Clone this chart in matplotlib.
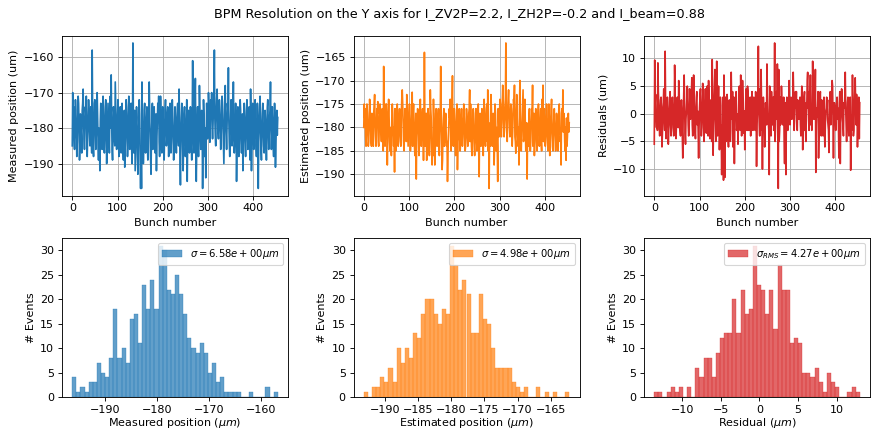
"""
BPM resolution on the Y axis: measured / estimated positions and residuals.
"""
import matplotlib
matplotlib.use("Agg")
import matplotlib.pyplot as plt
from matplotlib.ticker import MultipleLocator
import numpy as np

# Measured position per bunch (um)
measured = [
    -185, -170, -177, -174, -183, -186, -179, -172, -175, -181, -188, -184, -178, -171, -173, -180, -189, -185, -176, -179,
    -182, -187, -175, -173, -169, -178, -183, -186, -180, -174, -176, -171, -184, -188, -182, -177, -172, -175, -181, -185,
    -179, -174, -183, -187, -158, -176, -185, -188, -181, -173, -172, -178, -186, -182, -175, -170, -177, -184, -189, -180,
    -183, -192, -178, -173, -175, -182, -186, -179, -171, -174, -185, -187, -181, -176, -172, -180, -190, -184, -177, -173,
    -178, -184, -187, -175, -171, -180, -165, -178, -186, -189, -182, -174, -176, -183, -185, -167, -173, -180, -186, -182,
    -177, -172, -181, -188, -185, -179, -174, -183, -187, -176, -173, -180, -186, -189, -182, -175, -191, -184, -178, -172,
    -176, -183, -188, -185, -174, -171, -179, -186, -182, -177, -173, -184, -190, -181, -156, -178, -187, -184, -175, -192,
    -186, -180, -174, -177, -188, -193, -184, -179, -172, -176, -189, -197, -185, -197, -167, -178, -183, -190, -186, -175,
    -173, -180, -187, -184, -178, -174, -185, -189, -181, -176, -167, -175, -183, -188, -193, -182, -177, -173, -186, -184,
    -179, -174, -181, -187, -185, -176, -192, -183, -178, -173, -177, -171, -184, -188, -182, -171, -176, -185, -187, -180,
    -174, -178, -186, -189, -181, -175, -172, -179, -185, -183, -176, -174, -182, -188, -184, -177, -173, -180, -187, -183,
    -178, -172, -176, -184, -189, -186, -180, -174, -177, -183, -187, -181, -175, -173, -182, -185, -169, -178, -186, -196,
    -183, -177, -173, -180, -186, -192, -184, -176, -174, -181, -188, -185, -179, -172, -195, -184, -177, -175, -182, -187,
    -181, -174, -176, -185, -189, -179, -161, -175, -183, -187, -180, -173, -166, -184, -195, -186, -178, -174, -182, -188,
    -177, -168, -174, -183, -186, -181, -175, -179, -197, -185, -172, -176, -182, -188, -180, -194, -184, -173, -178, -183,
    -175, -170, -173, -181, -184, -178, -172, -176, -170, -180, -183, -179, -174, -171, -158, -177, -182, -185, -176, -172,
    -169, -175, -181, -183, -178, -172, -174, -180, -186, -182, -176, -171, -173, -179, -184, -190, -181, -174, -168, -177,
    -182, -186, -179, -173, -175, -163, -178, -184, -188, -181, -176, -172, -177, -185, -183, -174, -167, -179, -187, -184,
    -178, -173, -180, -195, -186, -177, -174, -182, -188, -184, -179, -172, -175, -183, -187, -180, -176, -192, -185, -178,
    -173, -177, -184, -188, -181, -175, -172, -180, -186, -183, -178, -174, -185, -189, -169, -178, -192, -184, -176, -173,
    -179, -186, -183, -176, -172, -178, -185, -188, -182, -173, -177, -197, -184, -180, -174, -171, -179, -186, -189, -181,
    -176, -173, -180, -185, -187, -182, -175, -178, -184, -189, -181, -174, -172, -179, -186, -183, -177, -175, -167, -180,
    -186, -182, -174, -178, -185, -188, -180, -173, -177, -191, -184, -179, -175, -182, -177,
]

# Estimated position per bunch (um), top-middle panel
estimated = [
    -180, -175, -178, -176, -182, -184, -179, -175, -177, -181, -184, -183, -178, -174, -176, -180, -183, -184, -177, -179,
    -181, -184, -177, -175, -173, -179, -182, -184, -180, -176, -177, -174.5, -183, -184, -181, -178, -175, -177, -181, -183,
    -179, -176, -182, -185, -167, -178, -183, -184, -181, -175, -175, -179, -188, -182, -177, -174, -178, -183, -185, -180,
    -182, -186, -178, -175, -177, -181, -184, -180, -189.5, -176, -183, -185, -181, -177, -175, -180, -184, -183, -178, -176,
    -179, -182, -184, -177, -174, -172, -175, -179, -183, -185, -181, -176, -177, -182, -183, -173, -176, -180, -184, -181,
    -178, -175, -181, -185, -183, -179, -176, -172.5, -184, -177, -175, -180, -184, -186, -181, -177, -191, -182, -179, -176,
    -177, -182, -186, -183, -176, -174, -179, -184, -181, -178, -176, -182, -187, -180, -164, -179, -184, -182, -177, -187,
    -183, -180, -176, -178, -184, -186, -182, -172, -176, -178, -185, -188, -183, -186, -174, -179, -182, -188, -184, -177,
    -176, -180, -184, -183, -179, -176, -183, -186, -181, -178, -167, -177, -182, -189, -187, -181, -178, -176, -184, -183,
    -180, -177, -181, -184, -183, -191.5, -186, -182, -179, -176, -178, -174, -182, -185, -181, -175, -169, -183, -184, -180,
    -176, -179, -184, -186, -181, -177, -175, -189, -183, -182, -178, -176, -181, -185, -183, -178, -176, -180, -184, -182,
    -179, -175, -177, -182, -185, -184, -180, -176, -178, -182, -184, -181, -177, -176, -172, -183, -175, -179, -184, -186,
    -182, -178, -176, -180, -184, -186, -183, -177, -176, -181, -185, -184, -180, -175, -185, -190.5, -179, -177, -181, -184,
    -181, -176, -177, -183, -186, -180, -174, -177, -182, -184, -180, -176, -175, -183, -172, -185, -179, -193, -181, -184,
    -178, -173, -176, -182, -184, -181, -177, -180, -188, -184, -175, -177, -181, -185, -180, -184, -191.5, -176, -179, -182,
    -177, -174, -175, -180, -182, -179, -175, -171, -173, -179, -182, -180, -176, -174, -162, -178, -181, -183, -177, -174,
    -172, -176, -180, -182, -179, -175, -176, -180, -184, -181, -177, -174, -175, -171, -182, -183, -185.5, -177, -173, -178,
    -181, -184, -180, -188, -177, -170, -179, -183, -185, -181, -178, -175, -172, -183, -182, -177, -174, -180, -185, -183,
    -179, -191, -180, -184, -184, -178, -176, -181, -185, -183, -180, -176, -177, -171, -184, -180, -177, -186, -183, -179,
    -176, -178, -183, -185, -181, -177, -175, -180, -184, -182, -179, -176, -183, -185, -174, -179, -171, -183, -178, -176,
    -180, -184, -182, -178, -175, -179, -183, -185, -181, -175, -178, -186, -183, -180, -176, -174, -180, -184, -185, -181,
    -178, -176, -180, -183, -185, -181, -177, -179, -183, -185, -181, -176, -175, -180, -183, -182, -188, -177, -176, -180,
    -172, -181, -177, -179, -183, -185, -180, -187, -178, -184, -182, -179, -177, -181, -179,
]

# Residuals per bunch (um), top-right panel
residuals = [
    -5.5, 9.7, 2, 3.5, -1, -2.5, 0.5, -3, 9.2, 4, 1.5, -2, -4, -1, 2.5, 3, -0.5, -6, -3.5, 1,
    2, 4.5, -1, -3, 11.3, 2, -4.5, -2, 0.5, 3, 1, -5.5, -3, -1.5, 2, 4, -1, -4, -2.5, 1.5,
    3, 1, -2.5, -4, -2, 8.8, 3.5, -1, -4.5, -2, 1.5, 3, 0, -2.5, 6, 4, -1, -3, -4, 1,
    2.5, -2, -4, -8, 1, 3, 7, 2, -3.5, -5.5, -1, 0.5, 3, 5, 1.5, -2, -4, -3, 4.5, 2,
    -1, 2, 3.5, 6.5, -2, -4, -1.5, 7, 3, -1, -3, -4.5, 1, 3, 4, -2, 0.5, -3, -8, -2.5,
    1, 3, 4.5, -1, -4, -2.5, 1.5, 5.5, 3, -2, -5, -1, 2, 4.5, 0, -3.5, -2, 5, 1, -4,
    6, 3, -2, -4.5, -1, 2.5, 1, -5, 9.8, 4, -7.5, -2, 1, 4, 8, -1, -5, -2, 9.5, -3,
    -4, 2, 5, 1, -6.5, -3, 3, 1.5, -4, -11, -2, -8, 3, -12, 7, 1, -11.5, -2, 3, -5,
    -2, 3.5, 1, -4, -6, 0.5, 2.5, 1.5, -5, -3, 7.5, 2, -1, 4, -6, -2, 3, -9, -1.5, 2,
    1.5, 4, -3, -2, 0, -5.5, -1, 3, 5, 2, -3, 7, 1, -4, -2, 6, 3, -1, -3.5, 0.5,
    -6.5, -2, 2, 4.5, 1, -3, 5, 4, -1, -3, -2, 2.5, 3, -4, -1, 1, 4, -1.5, -3, 2,
    3, 1, -1.5, -3, 4, 2, -9.5, -2, 0.5, 3.5, 12.2, 1, -2, -4, 4.5, -3, 8, 2, -1, -10,
    -1, 3, 1, -1.5, -6, -2, 2, 0.5, -2, 9, 3, 0, -1.5, -3, -11, 5, 2, -2, -4, 4,
    1, -2, 2, 3, -3, -1, 12.8, -5, -2, 2, 4, -1, 9, 1, -13.5, 8, -5, -3, 3, -2,
    -1, 5, 2, -0.5, -2, 1, 3, -5, -9, -2, 2, -11, 1, 3, -1, -3, 1.5, 2, 6, -1,
    -2, 1, 3, 2, -1, -0.5, 1, 7.5, 3, -3, -1, 2, 4, 1, 4, -2, -3, 2.5, 1, 0.5,
    -1, 2, 3, -2, -4, 1, 5, 2, -6.5, -2, 1, 3, 4, -3, -1, -5, 2, 1, 6, 7.5,
    2, -1, -3, 4, 2, 7, -2, 1, -3, -1, 9.5, 3, 0, -1, 3, 2, 8, -10.6, -2, 1,
    -0.5, 2, 4, -8, -3, 1, 3, 4, -2, -4, 2.5, 1, -1.5, -4, 1, 3, -3, -6, -2, 0.5,
    1, 3, 2, -1, -2, -3, -7, 2.5, 1, 4, -2, 0, 3, 6, 5, -2, -8, -1, 2, 1,
    -1, -3, 1, 2, 3, -1, 1, -2, -8, 2, 4, -9, -1, 1, 4.5, 3, -1, -2, -4, 2,
    1, 3, 7.5, 1, -2, -5, -1, 2, 3, -2, -4, 1, 2, 3, -10.2, -1, -3, 0, 7, 2,
    -4, -3, 1, 4, 6.5, 1, -2, 3.5, 2, -6, -2, 1, 3, -4.5, 2,
]

# Histogram counts (50 bins each) and bin ranges, bottom row
meas_counts = [4, 1, 2, 1, 3, 3, 7, 5, 4, 8, 18, 8, 10, 7, 16, 17, 11, 23, 18, 24,
               18, 31, 30, 22, 21, 25, 21, 17, 12, 10, 9, 11, 9, 5, 7, 3, 4, 1, 1, 1,
               1, 0, 0, 1, 0, 0, 0, 2, 0, 1]
meas_range = (-196.4, -156.75)
est_counts = [1, 0, 2, 2, 4, 3, 6, 3, 10, 7, 10, 8, 13, 12, 17, 20, 20, 17, 15, 18,
              17, 31, 27, 22, 24, 21, 13, 13, 21, 16, 15, 10, 6, 6, 6, 6, 3, 2, 1, 2,
              0, 0, 2, 0, 1, 0, 1, 0, 0, 1]
est_range = (-193.2, -162.2)
res_counts = [1, 1, 0, 1, 2, 1, 2, 0, 2, 0, 6, 4, 8, 8, 4, 9, 12, 13, 13, 20,
              13, 22, 17, 18, 31, 23, 22, 17, 22, 14, 27, 22, 22, 11, 12, 11, 5, 5, 4, 6,
              3, 1, 5, 3, 2, 0, 0, 1, 2, 1]
res_range = (-13.62, 12.99)

sigmas = [6.58, 4.98, 4.27]

title = "BPM Resolution on the Y axis for I_ZV2P=2.2, I_ZH2P=-0.2 and I_beam=0.88"

colors = ["tab:blue", "tab:orange", "tab:red"]
series = [measured, estimated, residuals]
top_labels = ["Measured position (um)", "Estimated position (um)", "Residuals (um)"]
hist_counts = [meas_counts, est_counts, res_counts]
hist_ranges = [meas_range, est_range, res_range]
hist_steps = [10, 5, 5]
hist_xlabels = [r"Measured position ($\mu m$)", r"Estimated position ($\mu m$)",
                r"Residual ($\mu m$)"]
hist_labels = [r"$\sigma = %.2e \mu m$" % sigmas[0],
               r"$\sigma = %.2e \mu m$" % sigmas[1],
               r"$\sigma_{RMS} = %.2e \mu m$" % sigmas[2]]

fig = plt.figure(figsize=(871 / 80, 432 / 80), dpi=80)
fig.suptitle(title, fontsize=11.5, x=0.527, y=0.984)

lefts = [62 / 871, 353.5 / 871, 644 / 871]
w = 226 / 871

for i in range(3):
    # time series
    ax = fig.add_axes([lefts[i], 1 - 195.7 / 432, w, 160 / 432])
    y = series[i]
    ax.plot(np.arange(len(y)), y, color=colors[i])
    ax.grid(True)
    ax.set_xlabel("Bunch number")
    ax.set_ylabel(top_labels[i])

    # histogram
    ax = fig.add_axes([lefts[i], 1 - 397 / 432, w, 159 / 432])
    edges = np.linspace(hist_ranges[i][0], hist_ranges[i][1], len(hist_counts[i]) + 1)
    ax.hist(edges[:-1], bins=edges, weights=hist_counts[i], color=colors[i],
            alpha=0.7, edgecolor=colors[i], linewidth=0.4, label=hist_labels[i])
    ax.xaxis.set_major_locator(MultipleLocator(hist_steps[i]))
    ax.set_xlabel(hist_xlabels[i], labelpad=1)
    ax.set_ylabel("# Events")
    ax.legend(loc="upper right", fontsize=9)

fig.savefig("out.png", dpi=80)
